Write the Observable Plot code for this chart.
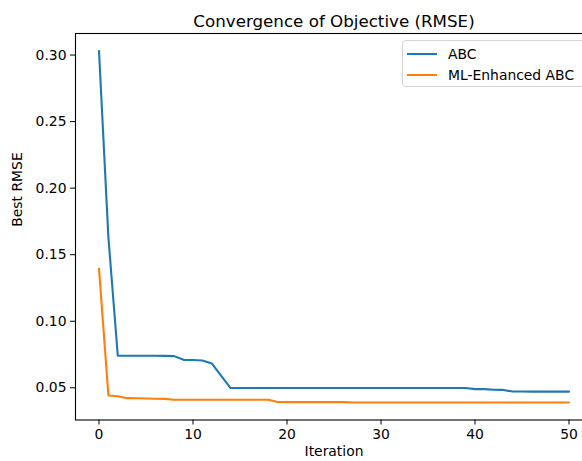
<!DOCTYPE html>
<html>
<head>
<meta charset="utf-8">
<script src="https://cdn.jsdelivr.net/npm/d3@7"></script>
<script src="https://cdn.jsdelivr.net/npm/@observablehq/plot@0.6"></script>
<style>
  html, body { margin: 0; padding: 0; background: #fff; overflow: hidden; }
  #wrap { position: relative; width: 582px; height: 461px; font-family: "DejaVu Sans", sans-serif; }
  #legend { position: absolute; left: 402px; top: 40px; width: 200px; height: 47px; border: 1px solid #d4d4d4; border-radius: 4px; background: rgba(255,255,255,0.8); box-sizing: border-box; }
  .sw { position: absolute; left: 4px; width: 30px; height: 2px; }
  .lt { position: absolute; left: 45px; font-size: 13.9px; color: #000; line-height: 16px; }
</style>
</head>
<body>
<div id="wrap"></div>
<script>
const seriesNames = ["ABC", "ML-Enhanced ABC"];
const seriesColors = ["#1f77b4", "#ff7f0e"];
const iterations = d3.range(0, 51);
const abc = [
  0.303, 0.163, 0.0741, 0.0741, 0.0741, 0.0741, 0.0741, 0.0740, 0.0738, 0.0710,
  0.0709, 0.0705, 0.0683, 0.0590, 0.0498, 0.0498, 0.0498, 0.0498, 0.0498, 0.0498,
  0.0498, 0.0498, 0.0498, 0.0498, 0.0498, 0.0498, 0.0498, 0.0498, 0.0498, 0.0498,
  0.0498, 0.0498, 0.0498, 0.0498, 0.0498, 0.0498, 0.0498, 0.0498, 0.0498, 0.0498,
  0.0490, 0.0490, 0.0485, 0.0484, 0.0472, 0.0472, 0.0471, 0.0471, 0.0471, 0.0471,
  0.0471
];
const mlAbc = [
  0.1395, 0.0442, 0.0437, 0.0422, 0.0421, 0.0420, 0.0418, 0.0417, 0.0410, 0.0410,
  0.0410, 0.0410, 0.0410, 0.0410, 0.0410, 0.0410, 0.0410, 0.0410, 0.0410, 0.0393,
  0.0392, 0.0392, 0.0392, 0.0392, 0.0392, 0.0392, 0.0392, 0.0390, 0.0390, 0.0390,
  0.0390, 0.0390, 0.0390, 0.0390, 0.0390, 0.0390, 0.0390, 0.0390, 0.0390, 0.0390,
  0.0390, 0.0390, 0.0390, 0.0390, 0.0390, 0.0390, 0.0390, 0.0390, 0.0390, 0.0390,
  0.0390
];
const xTicks = [0, 10, 20, 30, 40, 50];
const yTicks = [0.05, 0.10, 0.15, 0.20, 0.25, 0.30];
const titleText = "Convergence of Objective (RMSE)";
const xLabel = "Iteration";
const yLabel = "Best RMSE";

const data = [
  ...iterations.map((it, i) => ({iteration: it, rmse: abc[i], series: seriesNames[0]})),
  ...iterations.map((it, i) => ({iteration: it, rmse: mlAbc[i], series: seriesNames[1]}))
];

const chart = Plot.plot({
  width: 582,
  height: 461,
  marginLeft: 75,
  marginRight: -10,
  marginTop: 33,
  marginBottom: 41.5,
  style: {fontFamily: "DejaVu Sans, sans-serif", fontSize: "13.9px", color: "#000", background: "#fff", overflow: "hidden"},
  x: {domain: [-2.5, 52.5]},
  y: {domain: [0.0258, 0.3162]},
  color: {domain: seriesNames, range: seriesColors},
  marks: [
    Plot.frame({stroke: "#000", strokeWidth: 1.1}),
    Plot.axisX({ticks: xTicks, tickSize: 5, tickPadding: 4, label: null, fontSize: "13.9px"}),
    Plot.axisY({ticks: yTicks, tickSize: 5, tickPadding: 4, tickFormat: d3.format(".2f"), label: null, fontSize: "13.9px"}),
    Plot.line(data, {x: "iteration", y: "rmse", z: "series", stroke: "series", strokeWidth: 2.1, strokeLinejoin: "round"}),
    Plot.text([titleText], {frameAnchor: "top", dy: -18, fontSize: 16.7, fill: "#000"}),
    Plot.text([xLabel], {frameAnchor: "bottom", dy: 36, fontSize: 13.9, fill: "#000"}),
    Plot.text([yLabel], {frameAnchor: "left", rotate: -90, dx: -58, fontSize: 13.9, fill: "#000"})
  ]
});

const wrap = document.getElementById("wrap");
wrap.appendChild(chart);

const legend = document.createElement("div");
legend.id = "legend";
seriesNames.forEach((name, i) => {
  const sw = document.createElement("div");
  sw.className = "sw";
  sw.style.top = (12 + i * 20.5) + "px";
  sw.style.background = seriesColors[i];
  const lt = document.createElement("div");
  lt.className = "lt";
  lt.style.top = (5 + i * 20.5) + "px";
  lt.textContent = name;
  legend.appendChild(sw);
  legend.appendChild(lt);
});
wrap.appendChild(legend);
</script>
</body>
</html>
